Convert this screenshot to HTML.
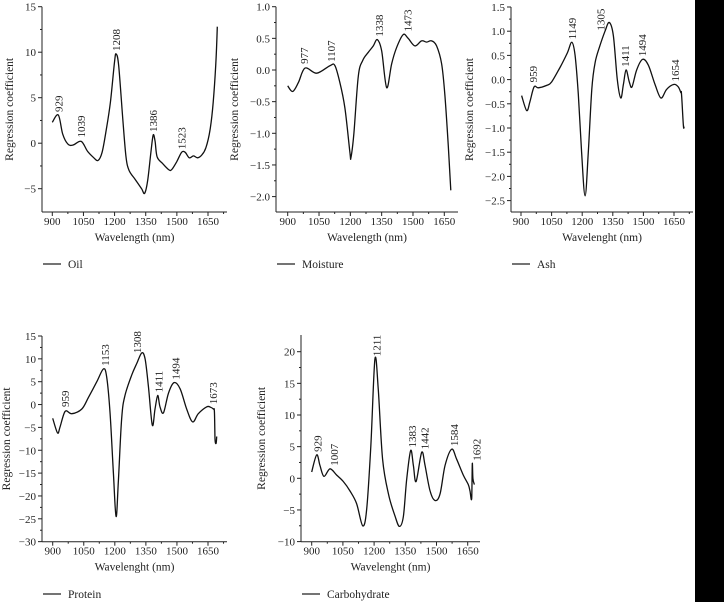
<!DOCTYPE html>
<html><head><meta charset="utf-8"><style>
html,body{margin:0;padding:0;background:#fff;width:724px;height:602px;overflow:hidden}
svg{display:block;font-family:"Liberation Serif",serif}
</style></head><body>
<svg id="c" width="724" height="602" viewBox="0 0 724 602">
<rect x="695" y="0" width="29" height="602" fill="#000"/>
</svg>
<script>
const oilNm=[900,929,950,975,1000,1039,1070,1100,1120,1140,1160,1180,1200,1208,1220,1240,1255,1270,1300,1330,1345,1360,1375,1386,1395,1405,1430,1460,1475,1500,1523,1540,1560,1580,1600,1620,1640,1660,1675,1687,1695];
const oilVal=[2.3,3.1,1.0,-0.1,-0.2,0.2,-0.9,-1.6,-1.9,-1.0,1.5,4.5,9.0,9.8,8.5,2.5,-1.5,-3.0,-4.0,-5.0,-5.5,-4.0,-1.0,0.9,0.2,-1.5,-2.2,-2.9,-2.9,-2.0,-1.0,-1.0,-1.6,-1.4,-1.6,-1.3,-0.5,1.5,4.5,8.5,12.8];
const moistNm=[900,924,951,983,1039,1103,1126,1150,1174,1198,1203,1217,1238,1259,1286,1310,1329,1350,1374,1398,1421,1453,1477,1509,1541,1565,1589,1613,1637,1653,1669,1681];
const moistVal=[-0.25,-0.34,-0.2,0.03,-0.05,0.07,0.07,-0.2,-0.6,-1.3,-1.38,-1.0,-0.1,0.15,0.28,0.38,0.48,0.3,-0.28,0.1,0.35,0.56,0.5,0.38,0.46,0.44,0.46,0.38,0.1,-0.4,-1.2,-1.9];
const ashNm=[903,928,944,964,985,1026,1050,1091,1127,1149,1165,1181,1197,1214,1230,1247,1263,1287,1312,1333,1353,1372,1389,1402,1415,1431,1444,1467,1496,1524,1557,1586,1614,1650,1671,1684,1687,1696,1700];
const ashVal=[-0.33,-0.64,-0.45,-0.15,-0.17,-0.12,-0.05,0.25,0.55,0.77,0.5,-0.3,-1.5,-2.4,-1.5,-0.2,0.35,0.7,1.0,1.18,0.9,0.0,-0.38,-0.1,0.2,-0.05,-0.15,0.2,0.42,0.3,-0.1,-0.38,-0.2,-0.1,-0.15,-0.27,-0.3,-0.95,-0.97];
const protNm=[900,923,935,960,992,1040,1072,1113,1145,1161,1177,1193,1206,1217,1233,1249,1282,1306,1330,1346,1362,1381,1394,1407,1418,1435,1459,1486,1515,1547,1576,1603,1644,1663,1676,1681,1684,1689,1692];
const protVal=[-3,-6.2,-5,-1.5,-2,-1,1.5,5,7.8,6,-2,-15,-24.5,-17,-3,2,6.5,9,11.3,10,4,-4.5,-1,2,-0.5,-1.8,2.5,4.8,3.5,-1,-3.8,-2,-0.5,-0.6,-1,-1.5,-7.5,-8.5,-7];
const carbNm=[900,924,940,959,988,1020,1052,1084,1116,1145,1164,1184,1204,1220,1241,1269,1301,1322,1341,1357,1376,1389,1402,1429,1445,1469,1493,1517,1541,1573,1597,1629,1653,1661,1669,1672,1675,1682];
const carbVal=[1,3.7,2,0.3,1.5,0.5,-0.5,-2,-4,-7.5,-5,5,18.8,14,3,-2.5,-6,-7.6,-6,0,4.4,2,-0.5,4.1,2,-2,-3.5,-2.5,2,4.6,3,0.5,-1,-2,-3.2,2.3,0,-1];
const oilPeaks=[[929,3.1],[1039,0.3],[1208,9.8],[1386,0.9],[1523,-1.0]];
const moistPeaks=[[977,0.05],[1107,0.08],[1338,0.48],[1473,0.56]];
const ashPeaks=[[959,-0.12],[1149,0.77],[1290,0.95,1305],[1411,0.2],[1494,0.42],[1654,-0.1]];
const protPeaks=[[959,-1.2],[1153,7.8],[1308,10.6],[1411,2],[1494,4.8],[1673,-0.6]];
const carbPeaks=[[929,3.7],[1007,1.5],[1211,18.8],[1383,4.4],[1442,4.1],[1584,4.6],[1692,2.3]];
const xTicks=[900,1050,1200,1350,1500,1650];
const oilTicks=[15,10,5,0,-5];
const moistTicks=[1.0,0.5,0.0,-0.5,-1.0,-1.5,-2.0];
const ashTicks=[1.5,1.0,0.5,0.0,-0.5,-1.0,-1.5,-2.0,-2.5];
const protTicks=[15,10,5,0,-5,-10,-15,-20,-25,-30];
const carbTicks=[20,15,10,5,0,-5,-10];

const svg=document.getElementById('c');
const NS='http://www.w3.org/2000/svg';
function mk(tag,attrs,parent){const e=document.createElementNS(NS,tag);for(const k in attrs)e.setAttribute(k,attrs[k]);(parent||svg).appendChild(e);return e;}
function fmt(v,dec){const s=Math.abs(v).toFixed(dec);return (v<0?'\u2212':'')+s;}

function panel(p){
  const g=mk('g',{});
  
  
  const X=nm=>p.x0+(nm-900)/750*(p.x1-p.x0);
  const Y=v=>p.yv0+(p.v0-v)*p.k;
  const ya=mk('line',{x1:p.ax,y1:p.top,x2:p.ax,y2:p.bot,stroke:'#222','stroke-width':1},g);
  
  
  const xa=mk('line',{x1:p.ax,y1:p.bot,x2:p.right,y2:p.bot,stroke:'#222','stroke-width':1},g);
  
  
  for(let nm=900;nm<=1725;nm+=75){const x=X(nm);if(x>p.right)break;const major=(nm-900)%150===0;
    mk('line',{x1:x,y1:p.bot,x2:x,y2:p.bot+(major?4:2),stroke:'#222'},g);}
  xTicks.forEach(t=>{const tx=mk('text',{x:X(t),y:p.bot+13,'font-size':11,'text-anchor':'middle',fill:'#222'},g);tx.textContent=t;
    
    });
  const step=p.ticks[0]-p.ticks[1];
  p.ticks.forEach((t,i)=>{const y=Y(t);mk('line',{x1:p.ax-4,y1:y,x2:p.ax,y2:y,stroke:'#222'},g);
    if(i<p.ticks.length-1){const ym=Y(t-step/2);mk('line',{x1:p.ax-2,y1:ym,x2:p.ax,y2:ym,stroke:'#222'},g);}
    const tx=mk('text',{x:p.ax-6,y:y+4,'font-size':11,'text-anchor':'end',fill:'#222'},g);tx.textContent=fmt(t,p.dec);
    
    });
  const xl=mk('text',{x:(p.ax+p.right)/2,y:p.bot+29,'font-size':11.5,'text-anchor':'middle',fill:'#222'},g);xl.textContent=p.xlab;
  
  
  const yl=mk('text',{x:0,y:0,'font-size':11.5,'text-anchor':'middle',fill:'#222',transform:`translate(${p.ylx},${(p.top+p.bot)/2}) rotate(-90)`},g);yl.textContent='Regression coefficient';
  
  
  const pts=p.nm.map((n,i)=>[X(n),Y(p.val[i])]);
  let d='M'+pts[0][0].toFixed(1)+','+pts[0][1].toFixed(1);
  for(let i=0;i<pts.length-1;i++){const p0=pts[i-1]||pts[i],p1=pts[i],p2=pts[i+1],p3=pts[i+2]||p2;
    const c1=[p1[0]+(p2[0]-p0[0])/6,p1[1]+(p2[1]-p0[1])/6],c2=[p2[0]-(p3[0]-p1[0])/6,p2[1]-(p3[1]-p1[1])/6];
    d+=`C${c1[0].toFixed(1)},${c1[1].toFixed(1)} ${c2[0].toFixed(1)},${c2[1].toFixed(1)} ${p2[0].toFixed(1)},${p2[1].toFixed(1)}`;}
  const path=mk('path',{d:d,fill:'none',stroke:'#111','stroke-width':1.3},g);
  
  
  p.peaks.forEach(pk=>{const x=X(pk[0]),y=Y(pk[1])-3;
    const t=mk('text',{x:0,y:0,'font-size':11,fill:'#222',transform:`translate(${x+4},${y}) rotate(-90)`},g);t.textContent=pk[2]||pk[0];
    
    });
  const ll=mk('line',{x1:p.ax+1,y1:p.leg,x2:p.ax+19,y2:p.leg,stroke:'#222','stroke-width':1.2},g);
  
  
  const lt=mk('text',{x:p.ax+26,y:p.leg+4,'font-size':11.5,fill:'#222'},g);lt.textContent=p.legend;
  
  
}
panel({name:'oil',nm:oilNm,val:oilVal,peaks:oilPeaks,ticks:oilTicks,dec:0,ax:42,x0:52.3,x1:208,right:227,top:6.7,bot:212,v0:15,yv0:6.7,k:9.1,xlab:'Wavelength (nm)',ylx:13,leg:264,legend:'Oil'});
panel({name:'moisture',nm:moistNm,val:moistVal,peaks:moistPeaks,ticks:moistTicks,dec:1,ax:276,x0:287.7,x1:444.3,right:458,top:6.7,bot:212,v0:1,yv0:6.7,k:63.3,xlab:'Wavelength (nm)',ylx:238,leg:264,legend:'Moisture'});
panel({name:'ash',nm:ashNm,val:ashVal,peaks:ashPeaks,ticks:ashTicks,dec:1,ax:511,x0:521,x1:674,right:693,top:7,bot:212,v0:1.5,yv0:7,k:48.4,xlab:'Wavelenght (nm)',ylx:473,leg:264,legend:'Ash'});
panel({name:'protein',nm:protNm,val:protVal,peaks:protPeaks,ticks:protTicks,dec:0,ax:42,x0:52.7,x1:208,right:227,top:336,bot:541.7,v0:15,yv0:336,k:4.57,xlab:'Wavelenght (nm)',ylx:10,leg:594,legend:'Protein'});
panel({name:'carbohydrate',nm:carbNm,val:carbVal,peaks:carbPeaks,ticks:carbTicks,dec:0,ax:301,x0:311.7,x1:467.7,right:480,top:335,bot:541.7,v0:20,yv0:351.7,k:6.33,xlab:'Wavelenght (nm)',ylx:265,leg:594,legend:'Carbohydrate'});
</script>
</body></html>
